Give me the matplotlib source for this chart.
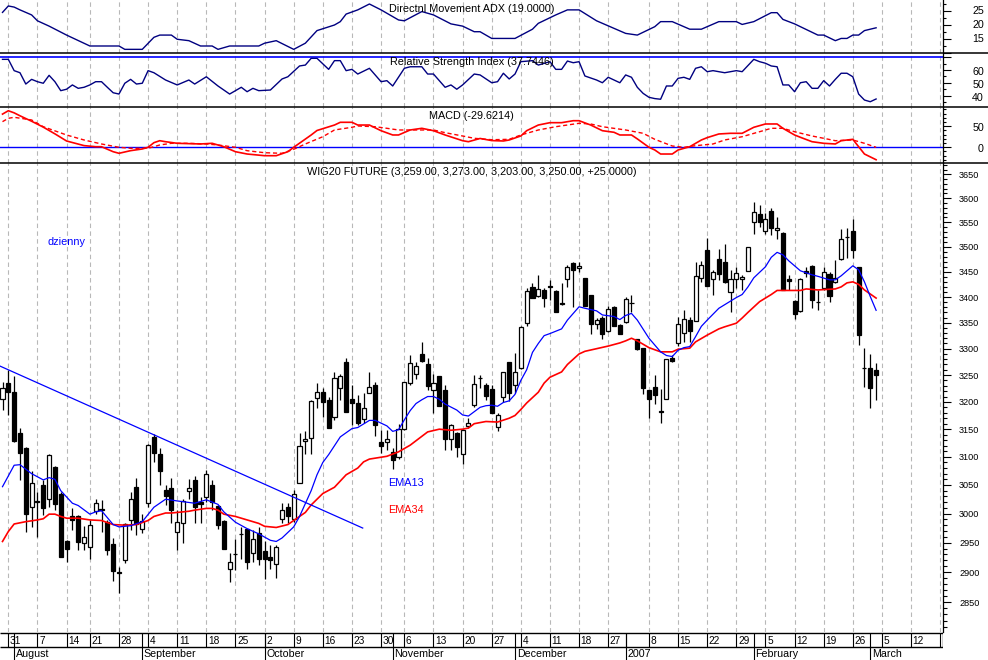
import numpy as np
import pandas as pd
import matplotlib
matplotlib.use('Agg')
import matplotlib.pyplot as plt
from matplotlib.lines import Line2D
from matplotlib.ticker import FixedLocator, NullFormatter, FuncFormatter

plt.rcParams['font.family'] = ['Liberation Sans', 'DejaVu Sans']

# ---------------- data ----------------
holidays = ['2006-08-15', '2006-11-01', '2006-12-25', '2006-12-26', '2007-01-01']
month_labels = ['August', 'September', 'October', 'November', 'December', '2007', 'February', 'March']

open_ = [3205, 3236, 3219, 3143, 3115, 3011, 3022, 3050, 3026, 3081,
         3035, 2952, 2996, 2995, 2949, 2943, 3005, 3008, 2986, 2948,
         2900, 2921, 2989, 3047, 2973, 3018, 3135, 3105, 3042, 3044,
         2969, 2983, 3040, 3059, 3020, 3029, 3050, 3014, 2987, 2905,
         2931, 2964, 2973, 2932, 2967, 2936, 2925, 2913, 2991, 3011,
         2990, 3054, 3128, 3134, 3208, 3218, 3203, 3172, 3225, 3275,
         3205, 3198, 3169, 3217, 3231, 3127, 3126, 3109, 3100, 3151,
         3235, 3253, 3290, 3271, 3223, 3248, 3223, 3132, 3143, 3106,
         3156, 3194, 3245, 3232, 3224, 3154, 3210, 3274, 3232, 3263,
         3349, 3419, 3403, 3414, 3422, 3412, 3389, 3436, 3467, 3457,
         3437, 3404, 3348, 3359, 3334, 3381, 3346, 3351, 3389, 3318,
         3302, 3222, 3227, 3184, 3205, 3283, 3310, 3331, 3355, 3354,
         3437, 3494, 3435, 3475, 3470, 3409, 3435, 3435, 3452, 3550,
         3567, 3533, 3573, 3535, 3528, 3435, 3392, 3373, 3452, 3461,
         3391, 3417, 3446, 3429, 3475, 3520, 3532, 3459, 3263, 3263,
         3259]
high = [3237, 3259, 3248, 3152, 3118, 3074, 3038, 3059, 3106, 3084,
        3038, 2955, 3009, 2998, 2978, 2989, 3025, 3024, 2989, 2958,
        2909, 2983, 3038, 3062, 3000, 3124, 3141, 3115, 3050, 3062,
        3006, 3025, 3060, 3065, 3029, 3077, 3059, 3015, 2989, 2932,
        2956, 2977, 2974, 2972, 2977, 2952, 2946, 2946, 3018, 3019,
        3041, 3143, 3146, 3203, 3236, 3225, 3210, 3256, 3253, 3282,
        3231, 3213, 3216, 3256, 3237, 3148, 3148, 3115, 3159, 3237,
        3288, 3274, 3312, 3282, 3252, 3248, 3232, 3159, 3145, 3151,
        3170, 3250, 3250, 3236, 3232, 3179, 3256, 3275, 3291, 3343,
        3417, 3428, 3443, 3417, 3434, 3414, 3427, 3464, 3470, 3470,
        3438, 3405, 3359, 3362, 3382, 3382, 3348, 3401, 3404, 3319,
        3302, 3222, 3250, 3224, 3280, 3288, 3361, 3374, 3361, 3470,
        3471, 3519, 3454, 3496, 3505, 3454, 3460, 3444, 3500, 3593,
        3586, 3569, 3579, 3562, 3531, 3444, 3394, 3437, 3460, 3463,
        3414, 3460, 3449, 3474, 3536, 3539, 3556, 3460, 3301, 3290,
        3273]
low = [3185, 3176, 3127, 3059, 2969, 2977, 2959, 2997, 3012, 3006,
       2926, 2918, 2972, 2937, 2937, 2923, 3000, 2969, 2929, 2886,
       2865, 2915, 2972, 2963, 2966, 3012, 3091, 3050, 3015, 2984,
       2937, 2949, 3026, 2984, 2983, 3020, 3006, 2974, 2939, 2884,
       2904, 2923, 2906, 2918, 2912, 2888, 2906, 2891, 2983, 2984,
       2986, 3053, 3106, 3106, 3188, 3173, 3152, 3167, 3203, 3182,
       3158, 3158, 3162, 3216, 3137, 3107, 3112, 3079, 3097, 3148,
       3232, 3242, 3275, 3223, 3179, 3192, 3112, 3113, 3100, 3088,
       3152, 3191, 3226, 3204, 3179, 3146, 3199, 3201, 3216, 3262,
       3344, 3399, 3401, 3381, 3394, 3371, 3384, 3419, 3381, 3450,
       3382, 3328, 3338, 3319, 3332, 3344, 3328, 3349, 3371, 3297,
       3214, 3171, 3197, 3162, 3205, 3275, 3306, 3313, 3313, 3354,
       3429, 3422, 3405, 3434, 3427, 3370, 3417, 3414, 3452, 3526,
       3541, 3526, 3524, 3516, 3414, 3414, 3358, 3371, 3440, 3378,
       3375, 3414, 3390, 3427, 3474, 3477, 3477, 3307, 3228, 3188,
       3203]
close = [3226, 3219, 3129, 3107, 3000, 3053, 3021, 3010, 3104, 3016,
         2926, 2939, 2989, 2951, 2959, 2980, 3018, 3007, 2938, 2902,
         2899, 2982, 3026, 2982, 2988, 3121, 3107, 3074, 3031, 3006,
         2986, 3022, 3044, 3012, 3016, 3069, 3020, 2980, 2940, 2918,
         2930, 2964, 2918, 2956, 2923, 2923, 2921, 2943, 3007, 2995,
         3035, 3120, 3132, 3201, 3218, 3200, 3152, 3244, 3248, 3182,
         3198, 3162, 3188, 3228, 3158, 3119, 3132, 3095, 3151, 3237,
         3272, 3268, 3277, 3230, 3235, 3192, 3133, 3157, 3118, 3148,
         3162, 3233, 3245, 3211, 3180, 3176, 3255, 3216, 3255, 3342,
         3411, 3399, 3415, 3399, 3419, 3371, 3387, 3459, 3453, 3462,
         3382, 3348, 3355, 3328, 3376, 3344, 3328, 3397, 3389, 3299,
         3225, 3205, 3213, 3182, 3280, 3277, 3348, 3357, 3333, 3442,
         3463, 3422, 3449, 3446, 3429, 3435, 3447, 3440, 3499, 3571,
         3550, 3557, 3538, 3539, 3414, 3432, 3366, 3435, 3447, 3395,
         3391, 3450, 3402, 3438, 3516, 3520, 3494, 3327, 3263, 3225,
         3250]

ema13_idx = [0, 2, 3, 5, 7, 8, 9, 10, 12, 13, 15, 16, 17, 18, 19, 20, 22, 24, 26, 28,
             30, 33, 35, 37, 38, 40, 42, 44, 46, 47, 48, 50, 51, 53, 54, 55, 56, 58, 60, 61,
             63, 64, 65, 66, 67, 68, 69, 70, 71, 72, 73, 74, 75, 76, 78, 79, 80, 81, 82, 83,
             84, 85, 86, 87, 88, 89, 90, 91, 92, 93, 94, 96, 97, 99, 100, 102, 103, 105, 106, 107,
             108, 109, 111, 113, 114, 115, 116, 117, 118, 119, 120, 121, 123, 125, 126, 127, 128, 129, 131, 132,
             133, 134, 135, 136, 137, 139, 140, 142, 143, 144, 146, 147, 148, 149, 150]
ema13_val = [3047, 3085, 3086, 3070, 3059, 3063, 3060, 3040, 3018, 3014, 2999, 3003, 3005, 2993, 2981, 2977, 2979, 2986, 3011, 3025,
             3022, 3018, 3024, 3016, 3003, 2985, 2974, 2965, 2954, 2952, 2958, 2977, 2995, 3040, 3068, 3090, 3104, 3136, 3151, 3153,
             3166, 3166, 3161, 3156, 3146, 3149, 3167, 3184, 3197, 3204, 3210, 3210, 3205, 3196, 3185, 3176, 3174, 3182, 3190, 3193,
             3194, 3192, 3199, 3202, 3214, 3240, 3260, 3293, 3310, 3325, 3329, 3338, 3355, 3381, 3378, 3373, 3365, 3362, 3356, 3364,
             3368, 3355, 3320, 3294, 3287, 3285, 3297, 3302, 3304, 3323, 3343, 3355, 3378, 3392, 3399, 3405, 3420, 3438, 3460, 3479,
             3489, 3484, 3472, 3462, 3452, 3444, 3441, 3434, 3434, 3442, 3462, 3454, 3430, 3401, 3374]

ema34_idx = [0, 1, 2, 4, 6, 7, 8, 9, 10, 11, 13, 15, 17, 19, 21, 23, 25, 26, 28, 29,
             32, 33, 35, 36, 37, 38, 40, 42, 44, 45, 47, 49, 50, 52, 53, 55, 57, 59, 61, 62,
             63, 66, 67, 68, 70, 72, 73, 75, 77, 79, 80, 81, 83, 85, 87, 88, 89, 90, 92, 93,
             94, 96, 97, 99, 100, 102, 104, 106, 107, 108, 109, 111, 113, 115, 116, 118, 119, 121, 123, 124,
             126, 127, 128, 130, 132, 133, 135, 137, 138, 140, 143, 144, 145, 146, 147, 148, 150]
ema34_val = [2952, 2969, 2982, 2986, 2989, 2991, 2999, 2999, 2995, 2992, 2992, 2989, 2988, 2981, 2980, 2981, 2988, 2995, 3001, 3001,
             3004, 3006, 3009, 3009, 3006, 2999, 2995, 2989, 2983, 2978, 2976, 2981, 2988, 3002, 3015, 3035, 3046, 3068, 3080, 3091,
             3096, 3101, 3105, 3109, 3121, 3137, 3145, 3150, 3148, 3150, 3152, 3160, 3164, 3163, 3170, 3175, 3186, 3198, 3218, 3235,
             3246, 3256, 3270, 3290, 3295, 3300, 3305, 3311, 3315, 3320, 3315, 3302, 3294, 3294, 3299, 3301, 3313, 3326, 3338, 3342,
             3349, 3359, 3370, 3391, 3405, 3413, 3413, 3413, 3416, 3414, 3416, 3420, 3428, 3430, 3425, 3414, 3398]

trend_idx = [-0.43, 61.85]
trend_val = [3267, 2975]

adx_idx = [0, 1, 2, 3, 5, 6, 8, 11, 15, 20, 21, 24, 26, 27, 29, 30, 32, 34, 36, 37,
           39, 44, 45, 47, 50, 52, 54, 57, 58, 59, 61, 63, 65, 68, 69, 72, 74, 77, 79, 81,
           82, 84, 88, 91, 92, 95, 97, 99, 102, 107, 109, 112, 113, 115, 118, 120, 123, 126, 127, 129,
           132, 133, 134, 136, 140, 141, 143, 144, 145, 146, 147, 148, 150]
adx_val = [24.5, 26.8, 26.4, 25.4, 23.6, 21.5, 19.6, 16.4, 12.5, 12.5, 11.3, 11.3, 15.6, 16.4, 16.4, 14.9, 14.4, 12.5, 12.5, 11.3,
           12.5, 12.5, 13.5, 14.4, 11.3, 13.5, 18.0, 20.0, 21.2, 23.9, 25.4, 27.5, 25.4, 21.8, 21.5, 24.8, 23.6, 20.4, 19.6, 17.6,
           17.6, 15.2, 15.2, 18.5, 20.6, 23.6, 25.4, 25.4, 21.5, 17.0, 16.4, 19.4, 21.2, 21.2, 18.5, 18.5, 21.2, 21.2, 20.2, 21.2,
           24.4, 24.4, 22.0, 20.4, 16.4, 16.4, 14.4, 15.2, 15.2, 16.4, 16.4, 18.0, 19.0]

rsi_idx = [0, 1, 2, 3, 4, 5, 6, 7, 8, 9, 10, 11, 12, 13, 14, 15, 16, 17, 18, 19,
           20, 21, 22, 23, 24, 25, 26, 28, 30, 32, 33, 35, 37, 39, 41, 42, 43, 44, 46, 48,
           49, 51, 52, 53, 54, 56, 57, 58, 59, 60, 61, 63, 65, 66, 67, 69, 70, 72, 73, 74,
           76, 77, 78, 79, 81, 82, 84, 85, 86, 87, 88, 89, 91, 92, 94, 95, 96, 97, 98, 99,
           100, 102, 103, 104, 106, 107, 108, 109, 110, 111, 112, 113, 114, 115, 116, 117, 118, 119, 120, 121,
           122, 124, 126, 127, 129, 130, 131, 132, 133, 134, 135, 136, 137, 138, 139, 140, 141, 142, 143, 144,
           145, 146, 147, 148, 149, 150]
rsi_val = [68.2, 68.2, 59.5, 57.9, 49.2, 52.8, 51.0, 49.8, 55.9, 51.0, 44.1, 45.2, 48.5, 45.9, 46.7, 48.5, 51.0, 51.0, 46.7, 42.5,
           41.5, 49.8, 52.8, 49.2, 49.8, 59.5, 57.9, 52.3, 48.5, 52.3, 49.2, 54.8, 47.7, 41.5, 46.7, 43.3, 45.9, 44.1, 44.6, 53.1,
           54.8, 63.1, 63.8, 69.0, 69.0, 60.5, 67.2, 67.2, 59.5, 60.5, 56.9, 61.3, 51.0, 51.8, 47.7, 61.3, 62.5, 62.5, 56.9, 56.9,
           46.7, 48.5, 45.2, 48.5, 56.9, 56.2, 50.2, 51.0, 57.5, 53.1, 56.9, 66.4, 67.2, 63.8, 66.4, 60.5, 60.5, 66.9, 65.6, 66.4,
           55.4, 52.3, 50.2, 54.4, 50.2, 56.2, 54.4, 46.7, 42.0, 39.0, 38.0, 37.5, 47.7, 47.7, 53.6, 54.4, 52.8, 61.3, 62.5, 58.7,
           59.5, 57.9, 59.5, 58.7, 68.2, 66.4, 65.2, 63.1, 62.5, 48.5, 48.5, 43.3, 50.2, 51.0, 45.9, 45.9, 51.8, 47.7, 52.8, 57.5,
           57.5, 54.8, 41.5, 36.9, 35.6, 37.7]

macd_idx = [0, 1, 2, 3, 5, 7, 9, 11, 14, 16, 17, 19, 20, 22, 24, 25, 26, 27, 28, 30,
            34, 36, 38, 40, 42, 45, 47, 49, 50, 53, 54, 57, 58, 60, 61, 63, 65, 67, 68, 70,
            72, 74, 76, 79, 80, 82, 84, 86, 87, 89, 90, 92, 94, 96, 98, 99, 101, 103, 105, 106,
            108, 109, 110, 111, 112, 113, 115, 116, 118, 120, 121, 123, 125, 127, 129, 131, 133, 134, 136, 137,
            139, 141, 143, 144, 146, 147, 148, 150]
macd_val = [79, 87, 82, 75, 62, 48, 32, 15, 4, 1.4, 1.4, -10.5, -14.3, -8, -4, 0, 11, 15.7, 13.3, 9.5,
            7.9, 9.5, 1.4, -10.5, -16, -20, -20, -10.5, 0, 29.3, 40, 53, 59.5, 59.5, 53, 53, 39.5, 29.3, 29.3, 41.2,
            45.2, 39.5, 29.3, 15.7, 13.3, 21, 16, 15, 17.4, 27, 39.5, 53, 58.6, 58.6, 63.3, 63.3, 53, 39.5, 35.7, 29.3,
            29.3, 20, 10, 0, -6.4, -16, -16, -6.4, 1.4, 17.4, 23, 31.7, 33.3, 33.3, 47.6, 55.5, 55.5, 45.2, 29.3, 23.8,
            13.3, 9.5, 7.9, 15.7, 19, 1.4, -16, -29.6]

signal_idx = [0, 1, 2, 5, 7, 11, 14, 17, 20, 22, 25, 27, 29, 32, 35, 37, 40, 42, 45, 48,
              50, 52, 55, 57, 60, 61, 64, 66, 68, 71, 74, 76, 79, 81, 84, 87, 89, 92, 95, 99,
              101, 103, 107, 110, 112, 115, 117, 119, 122, 124, 127, 130, 132, 134, 136, 139, 141, 143, 146, 148,
              150]
signal_val = [61, 69, 71.4, 65, 49, 29.3, 17.4, 7.9, 0, -2.4, -2.4, 5.5, 9.5, 9.5, 7.9, 5.5, 0, -8.1, -12.9, -14.3,
              -4.8, 7.9, 25.2, 41.2, 47.6, 50.7, 49, 45.2, 41.2, 41.2, 41.2, 34.8, 26.9, 21.4, 18, 19, 29.3, 41.2, 49, 57.1,
              55.5, 49, 41.2, 33.3, 19, 3.1, 0, 3.8, 7.9, 17.4, 25.2, 37.1, 45.2, 45.2, 37.1, 26.9, 21.4, 15.7, 17.4, 9.5,
              0]

# ---------------- layout ----------------
W, H = 988, 660
fig = plt.figure(figsize=(W / 100, H / 100), dpi=100)
fig.patch.set_facecolor('white')

PLOT_R = 943.3
X0 = 2.5          # pixel of first candle
STEP = 5.824      # pixels per trading day
XLIM = ((0 - X0) / STEP, (PLOT_R - X0) / STEP)

def fy(p):
    return 1 - p / H

def make_ax(top, bottom):
    ax = fig.add_axes([0, fy(bottom), PLOT_R / W, (bottom - top) / H])
    ax.set_xlim(*XLIM)
    for s in ['left', 'top', 'bottom']:
        ax.spines[s].set_visible(False)
    ax.spines['right'].set_linewidth(0.9)
    ax.set_xticks([])
    ax.yaxis.tick_right()
    ax.set_facecolor('white')
    return ax

ax_adx = make_ax(0, 53.3)
ax_rsi = make_ax(53.3, 107.3)
ax_macd = make_ax(107.3, 163.3)
ax_p = make_ax(163.3, 632)

all_days = pd.bdate_range('2006-07-28', '2007-03-19')
days = all_days[~all_days.isin(pd.to_datetime(holidays))]
weeks = days.to_period('W')
week_idx = [i for i in range(1, len(days)) if weeks[i] != weeks[i - 1]]
month_idx = [i for i in range(1, len(days)) if days[i].month != days[i - 1].month]
year_idx = [i for i in range(1, len(days)) if days[i].year != days[i - 1].year]
grid_idx = [i for i in week_idx if i not in year_idx]

GRID = dict(color='#b8b8b8', lw=0.8, ls=(0, (4, 3)), zorder=0)
for ax in [ax_adx, ax_rsi, ax_macd, ax_p]:
    for g in grid_idx:
        ax.axvline(g, **GRID)

# ---------------- ADX ----------------
ax_adx.plot(adx_idx, adx_val, color='#000080', lw=1.0, zorder=3)
ax_adx.set_ylim(9.89, 28.93)
ax_adx.yaxis.set_major_locator(FixedLocator([10, 15, 20, 25]))
ax_adx.yaxis.set_minor_locator(FixedLocator([12.5, 17.5, 22.5, 27.5]))
ax_adx.yaxis.set_major_formatter(NullFormatter())

# ---------------- RSI ----------------
ax_rsi.axhline(70, color='#0000ff', lw=1.2, zorder=2)
ax_rsi.plot(rsi_idx, rsi_val, color='#000080', lw=1.0, zorder=3)
ax_rsi.set_ylim(31.3, 72.85)
ax_rsi.yaxis.set_major_locator(FixedLocator([40, 50, 60, 70]))
ax_rsi.yaxis.set_minor_locator(FixedLocator([35, 45, 55, 65]))
ax_rsi.yaxis.set_major_formatter(NullFormatter())

# ---------------- MACD ----------------
ax_macd.axhline(0, color='#0000ff', lw=1.0, zorder=2)
ax_macd.plot(signal_idx, signal_val, color='#ff0000', lw=1.0, ls=(0, (3, 2)), zorder=3)
ax_macd.plot(macd_idx, macd_val, color='#ff0000', lw=1.2, zorder=4)
ax_macd.set_ylim(-38.1, 95.2)
ax_macd.yaxis.set_major_locator(FixedLocator([0, 50]))
ax_macd.yaxis.set_minor_locator(FixedLocator([-30, -20, -10, 10, 20, 30, 40, 60, 70, 80, 90]))
ax_macd.yaxis.set_major_formatter(NullFormatter())

for ax in [ax_adx, ax_rsi, ax_macd]:
    ax.tick_params(axis='y', which='major', direction='out', length=5.4, width=0.8, color='black')
    ax.tick_params(axis='y', which='minor', direction='out', length=2.5, width=0.8, color='black')

def ind_labels(ax, vals, dy):
    for v in vals:
        ax.annotate(str(v), xy=(984, v), xycoords=('figure pixels', 'data'),
                    xytext=(0, dy), textcoords='offset points',
                    ha='right', va='center', fontsize=7.7, annotation_clip=False)

ind_labels(ax_adx, [15, 20, 25], 0)
ind_labels(ax_rsi, [40, 50, 60], -1.4)
ind_labels(ax_macd, [0, 50], -1.4)

# ---------------- price ----------------
o = np.array(open_, float)
h = np.array(high, float)
l = np.array(low, float)
c = np.array(close, float)
x = np.arange(len(o))
up = c >= o
bot = np.minimum(o, c)
hgt = np.abs(c - o)

ax_p.set_yscale('log')
ax_p.vlines(x, l, h, color='black', lw=0.9, zorder=3)
ax_p.bar(x[up], hgt[up], bottom=bot[up], width=0.7, color='white', edgecolor='black', lw=0.9, zorder=4)
ax_p.bar(x[~up], hgt[~up], bottom=bot[~up], width=0.7, color='black', edgecolor='black', lw=0.9, zorder=4)
ax_p.plot(ema34_idx, ema34_val, color='#ff0000', lw=1.2, zorder=5)
ax_p.plot(ema13_idx, ema13_val, color='#0000ff', lw=0.9, zorder=6)
ax_p.plot(trend_idx, trend_val, color='#0000ff', lw=0.9, zorder=6)

ax_p.set_ylim(2801.5, 3673.3)
ax_p.yaxis.set_major_locator(FixedLocator(list(range(2850, 3651, 50))))
ax_p.yaxis.set_minor_locator(FixedLocator(list(range(2810, 3671, 10))))
ax_p.yaxis.set_major_formatter(FuncFormatter(lambda v, p: f'{v:.0f}'))
ax_p.yaxis.set_minor_formatter(NullFormatter())
ax_p.tick_params(axis='y', which='major', direction='out', length=5.8, width=0.8, pad=5.5, labelsize=6.6)
ax_p.tick_params(axis='y', which='minor', direction='out', length=2.9, width=0.8)

# ---------------- titles and notes ----------------
title_kw = dict(ha='center', va='center', fontsize=7.8)
fig.text(471.6 / W, fy(9), 'Directnl Movement ADX (19.0000)', **title_kw)
fig.text(471.6 / W, fy(62.3), 'Relative Strength Index (37.7446)', **title_kw)
fig.text(471.6 / W, fy(116), 'MACD (-29.6214)', **title_kw)
fig.text(471.6 / W, fy(172), 'WIG20 FUTURE (3,259.00, 3,273.00, 3,203.00, 3,250.00, +25.0000)', **title_kw)
fig.text(47 / W, fy(242), 'dzienny', color='#0000ff', ha='left', va='center', fontsize=7.8)
fig.text(388 / W, fy(483), 'EMA13', color='#0000ff', ha='left', va='center', fontsize=7.8)
fig.text(388 / W, fy(510), 'EMA34', color='#ff0000', ha='left', va='center', fontsize=7.8)

# panel separators
for yy in [53.3, 107.3, 163.3]:
    fig.add_artist(Line2D([0, 1], [fy(yy), fy(yy)], color='black', lw=1.1))

# ---------------- date axis ----------------
ax_x = fig.add_axes([0, 0, PLOT_R / W, (H - 632) / H])
ax_x.set_xlim(*XLIM)
ax_x.set_ylim(660, 632)
ax_x.axis('off')
ax_x.hlines([633.3, 647.3], XLIM[0], XLIM[1], color='black', lw=1.0)
ax_x.vlines(week_idx, 633.3, 647.3, color='black', lw=0.8)
ax_x.vlines(month_idx, 633.3, 660, color='black', lw=0.8)
ax_x.vlines([XLIM[1]], 632, 647.3, color='black', lw=1.0)
for i in week_idx:
    if i in year_idx:
        continue
    ax_x.text(i + 0.28, 640.6, str(days[i].day), ha='left', va='center', fontsize=7.3, clip_on=True)
for i, name in zip(month_idx, month_labels):
    ax_x.text(i + 0.28, 654.0, name, ha='left', va='center', fontsize=7.7)

fig.savefig('out.png', dpi=100)
